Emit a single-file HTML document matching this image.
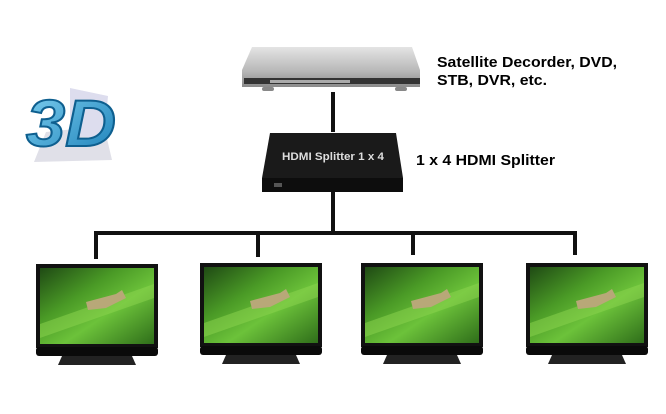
<!DOCTYPE html>
<html><head><style>
html,body{margin:0;padding:0;background:#fff;width:666px;height:414px;overflow:hidden}
svg{display:block}
text{font-family:"Liberation Sans",sans-serif;font-weight:bold}
</style></head><body>
<svg width="666" height="414" viewBox="0 0 666 414" xmlns="http://www.w3.org/2000/svg">
<defs>
<linearGradient id="scr" x1="0" y1="0" x2="1" y2="1">
<stop offset="0" stop-color="#1f4a14"/><stop offset="0.35" stop-color="#4a9a26"/><stop offset="0.6" stop-color="#6cc23a"/><stop offset="1" stop-color="#2f6e1a"/>
</linearGradient>
<linearGradient id="dvd" x1="0" y1="0" x2="0" y2="1">
<stop offset="0" stop-color="#e4e4e4"/><stop offset="0.6" stop-color="#b8b8b8"/><stop offset="1" stop-color="#8a8a8a"/>
</linearGradient>
<linearGradient id="blue" x1="0" y1="0" x2="1" y2="1">
<stop offset="0" stop-color="#7fd0f0"/><stop offset="1" stop-color="#1a7fb8"/>
</linearGradient>
<g id="tv">
<rect x="0" y="0" width="122" height="84" fill="#111"/>
<rect x="4" y="4" width="114" height="76" fill="url(#scr)"/>
<path d="M4 60 L118 20 L118 34 L4 74Z" fill="#8ed650" opacity="0.5"/>
<path d="M50 38 L80 30 L86 26 L90 34 L70 44 L52 46Z" fill="#b8a878"/>
<rect x="0" y="83" width="122" height="9" rx="3" fill="#0a0a0a"/>
<path d="M26 92 L96 92 L100 101 L22 101Z" fill="#222"/>
</g>
</defs>
<!-- 3D icon -->
<path d="M46 132 L104 126 L112 160 L34 162Z" fill="#e0e0e8"/>
<path d="M70 88 L108 96 L104 140 L70 134Z" fill="#dde" />
<text x="26" y="146" font-size="66" fill="url(#blue)" stroke="#0e5f8f" stroke-width="2" font-style="italic" textLength="90" lengthAdjust="spacingAndGlyphs">3D</text>
<!-- DVD -->
<path d="M252 47 L412 47 L420 70 L420 87 L242 87 L242 70Z" fill="url(#dvd)"/>
<rect x="244" y="78" width="176" height="6" fill="#333"/>
<rect x="270" y="80" width="80" height="3" fill="#aaa"/>
<rect x="262" y="87" width="12" height="4" rx="2" fill="#888"/>
<rect x="395" y="87" width="12" height="4" rx="2" fill="#888"/>
<!-- lines -->
<g fill="#111">
<rect x="331" y="92" width="4" height="40"/>
<rect x="331" y="192" width="4" height="42"/>
<rect x="94" y="231" width="483" height="4"/>
<rect x="94" y="231" width="4" height="28"/>
<rect x="256" y="231" width="4" height="26"/>
<rect x="411" y="231" width="4" height="24"/>
<rect x="573" y="231" width="4" height="24"/>
</g>
<!-- splitter -->
<path d="M270 133 L396 133 L403 178 L262 178Z" fill="#1a1a1a"/>
<rect x="262" y="178" width="141" height="14" fill="#0d0d0d"/>
<rect x="274" y="183" width="8" height="4" fill="#555"/>
<text x="282" y="160" font-size="11" fill="#ddd" textLength="102" lengthAdjust="spacingAndGlyphs">HDMI Splitter 1 x 4</text>
<!-- TVs -->
<use href="#tv" x="36" y="264"/>
<use href="#tv" x="200" y="263"/>
<use href="#tv" x="361" y="263"/>
<use href="#tv" x="526" y="263"/>
<!-- labels -->
<text x="437" y="67" font-size="15" fill="#000" textLength="180" lengthAdjust="spacingAndGlyphs">Satellite Decorder, DVD,</text>
<text x="437" y="85" font-size="15" fill="#000" textLength="110" lengthAdjust="spacingAndGlyphs">STB, DVR, etc.</text>
<text x="416" y="165" font-size="15" fill="#000" textLength="139" lengthAdjust="spacingAndGlyphs">1 x 4 HDMI Splitter</text>
</svg>
</body></html>
